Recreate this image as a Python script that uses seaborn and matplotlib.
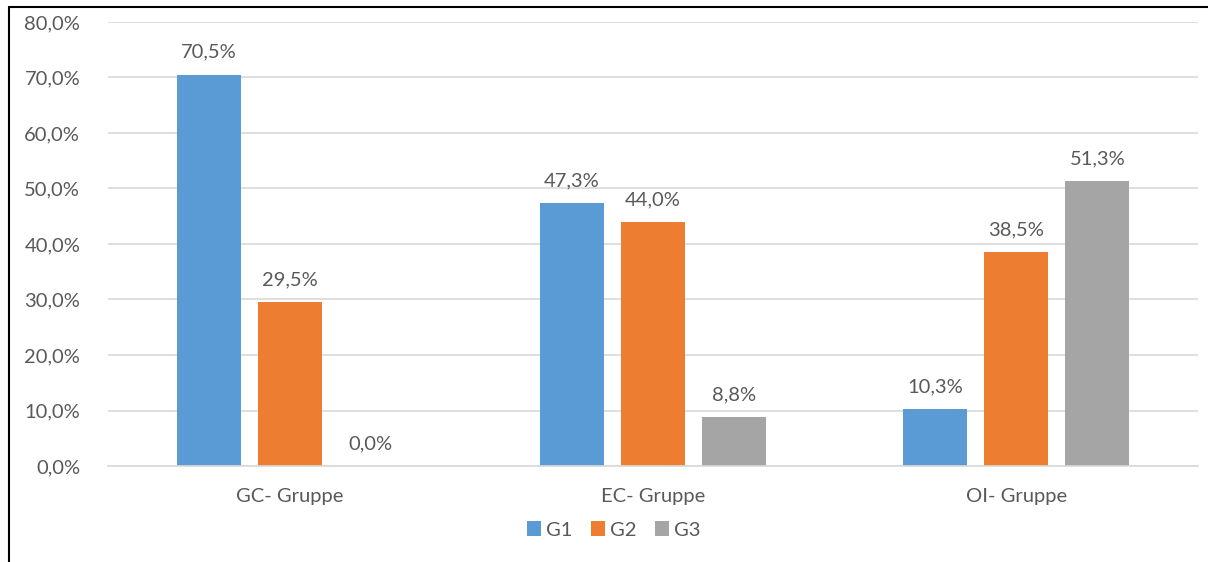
import matplotlib
matplotlib.use("Agg")
import matplotlib.pyplot as plt
import matplotlib.lines as mlines
from matplotlib.ticker import FuncFormatter
import pandas as pd
import seaborn as sns

sns.set_theme(style="white")
plt.rcParams["font.family"] = ["Lato", "DejaVu Sans"]

# ============================================================
# DATA
# ============================================================
categories = ["GC- Gruppe", "EC- Gruppe", "OI- Gruppe"]
series = ["G1", "G2", "G3"]
g1 = [70.5, 47.3, 10.3]
g2 = [29.5, 44.0, 38.5]
g3 = [0.0, 8.8, 51.3]

df = pd.DataFrame({
    "cat": categories * 3,
    "grp": [s for s in series for _ in categories],
    "val": g1 + g2 + g3,
})

colors = ["#5B9BD5", "#ED7D31", "#A5A5A5"]
txt = "#595959"
FS = 14.5


def pct(v, pos=None):
    return f"{v:.1f}%".replace(".", ",")


# ============================================================
# PLOT
# ============================================================
fig = plt.figure(figsize=(12.08, 5.62), dpi=100)
ax = fig.add_axes([0.0894, 0.1708, 0.9023, 0.7901])

sns.barplot(data=df, x="cat", y="val", hue="grp", palette=colors,
            width=0.669, gap=0.21, ax=ax, saturation=1, legend=True,
            linewidth=0)

for cont in ax.containers:
    ax.bar_label(cont, labels=[pct(b.get_height()) for b in cont],
                 padding=10, fontsize=FS, color=txt)

ax.set_ylim(0, 80)
ax.set_xlim(-0.5, 2.5)
ax.set_yticks(range(0, 81, 10))
ax.yaxis.set_major_formatter(FuncFormatter(pct))
ax.grid(axis="y", color="#D9D9D9", linewidth=1.2)
ax.set_axisbelow(True)
for s in ["top", "right", "left"]:
    ax.spines[s].set_visible(False)
ax.spines["bottom"].set_color("#D9D9D9")
ax.spines["bottom"].set_linewidth(1.2)
ax.tick_params(axis="both", length=0, labelsize=FS, labelcolor=txt)
ax.tick_params(axis="x", pad=16)
ax.tick_params(axis="y", pad=20)
ax.set_xlabel("")
ax.set_ylabel("")

# legend centred on the whole chart area, like Excel does
ax.legend(loc="center", bbox_to_anchor=(0.508, 0.057),
          bbox_transform=fig.transFigure, ncol=3,
          frameon=False, fontsize=FS, labelcolor=txt, handlelength=0.7,
          handleheight=0.7, handletextpad=0.25, columnspacing=0.9)

# frame lines (left and top)
fig.add_artist(mlines.Line2D([0.0075, 0.0075], [0, 0.9875], color="black", lw=1.5))
fig.add_artist(mlines.Line2D([0.0075, 1], [0.9875, 0.9875], color="black", lw=1.5))

plt.savefig("out.png", dpi=100)
plt.close()
